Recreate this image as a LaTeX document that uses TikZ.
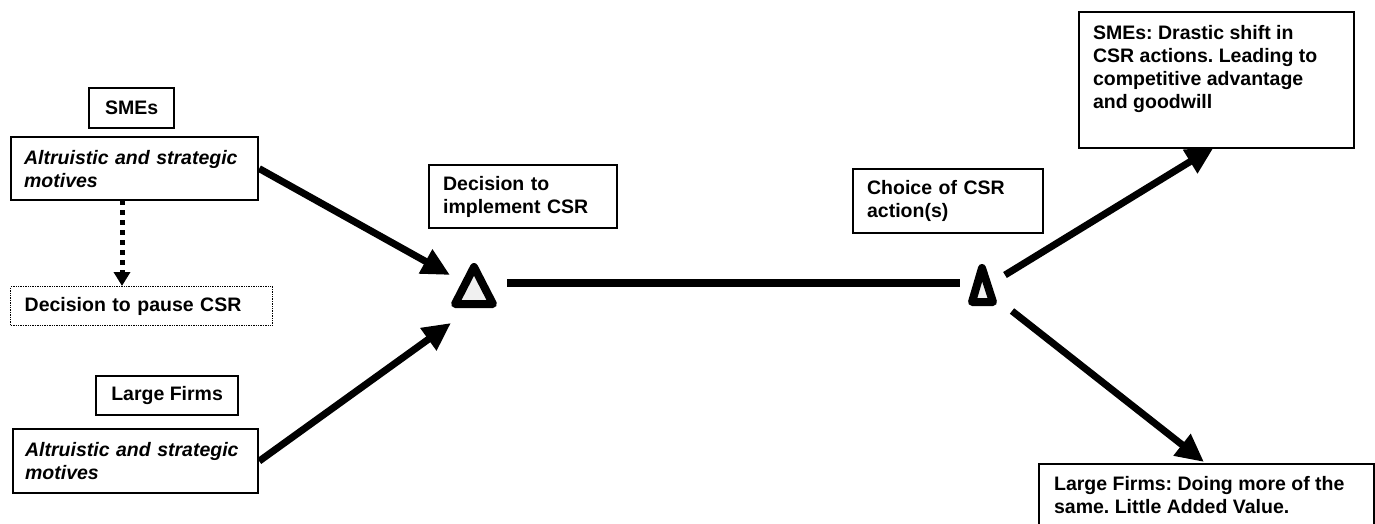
\documentclass[tikz,border=0pt]{standalone}
\usepackage{fontspec}
\setmainfont{Liberation Sans}
\usetikzlibrary{arrows.meta}
\frenchspacing
\begin{document}
\begin{tikzpicture}[x=1pt,y=-1pt,
  every node/.style={font=\fontsize{19.5}{23}\selectfont\bfseries},
  boxnode/.style={draw, line width=2.2pt, anchor=north west, inner sep=0pt, align=left},
  bigarrow/.style={line width=7pt, -{Triangle[length=28pt,width=26pt]}},
  tri/.style={line width=8pt, line join=round, fill=gray!12}
]
\useasboundingbox (0,0) rectangle (1375,524);
\clip (0,0) rectangle (1375,524);

% left boxes
\node[boxnode, minimum width=85pt, minimum height=40pt, align=center] (smes) at (88,87) {SMEs};
\node[boxnode, minimum width=247pt, minimum height=63pt, text width=221pt, inner xsep=13pt] (alt1) at (10,136) {\itshape Altruistic and strategic\\\itshape motives};
\node[draw, densely dotted, line width=1.4pt, anchor=north west, inner sep=0pt, minimum width=262pt, minimum height=39pt, text width=234pt, align=left, inner xsep=14pt] (pause) at (10,286) {Decision to pause CSR};
\node[boxnode, minimum width=142pt, minimum height=39pt, align=center] (lf) at (95,375) {Large Firms};
\node[boxnode, minimum width=245pt, minimum height=64pt, text width=221pt, inner xsep=12pt] (alt2) at (12,428) {\itshape Altruistic and strategic\\\itshape motives};

% middle boxes
\node[boxnode, minimum width=188pt, minimum height=63pt, text width=160pt, inner xsep=14pt] (impl) at (428,164) {Decision to\\implement CSR};
\node[boxnode, minimum width=190pt, minimum height=64pt, text width=162pt, inner xsep=14pt] (choice) at (852,168) {Choice of CSR\\action(s)};

% right boxes
\node[boxnode, inner xsep=14pt, inner ysep=13pt] (res1) at (1078,11) {\parbox[c][110pt][t]{247pt}{SMEs: Drastic shift in\\CSR actions. Leading to\\competitive advantage\\and goodwill}};
\node[boxnode, inner xsep=15pt, inner ysep=12pt] (res2) at (1038,463) {\parbox[c][80pt][t]{305pt}{Large Firms: Doing more of the\\same. Little Added Value.}};

% triangles
\draw[tri] (474,267) -- (493,304) -- (455,304) -- cycle;
\draw[tri] (982,268) -- (993,302) -- (972,302) -- cycle;
\coordinate (t1l) at (507,283);
\coordinate (t2r) at (960,283);
\coordinate (t1in1) at (450,275);
\coordinate (t1in2) at (451,323);
\coordinate (t2out1) at (1005,275);
\coordinate (t2out2) at (1012,311);
\coordinate (r1tip) at (1214,147);
\coordinate (r2tip) at (1204,462);
\coordinate (pausetip) at (122,286);
\coordinate (altbot) at (122,200);

% connectors
\draw[line width=8.5pt] (t1l) -- (t2r);
\draw[bigarrow] (alt1.east) -- (t1in1);
\draw[bigarrow] (alt2.east) -- (t1in2);
\draw[bigarrow] (t2out1) -- (r1tip);
\draw[bigarrow] (t2out2) -- (r2tip);
\draw[line width=5pt, dash pattern=on 5pt off 5pt, -{Triangle[length=14pt,width=16pt]}] (altbot) -- (pausetip);
\end{tikzpicture}
\end{document}
